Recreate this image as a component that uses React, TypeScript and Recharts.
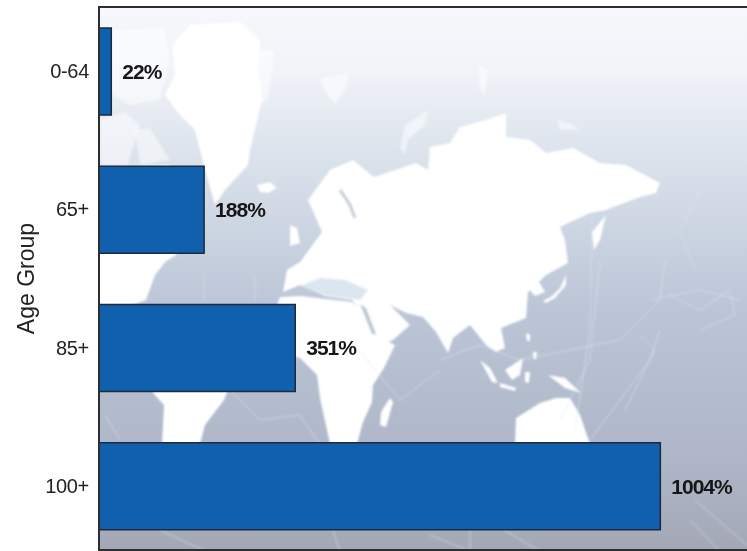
import { BarChart, Bar, XAxis, YAxis, LabelList } from "recharts";

const ageGroups = ["0-64", "65+", "85+", "100+"];
const growthPct = [22, 188, 351, 1004];

const chartData = ageGroups.map((group, i) => ({ group, growth: growthPct[i] }));

const FONT = '"Liberation Sans", Arial, sans-serif';

// Backdrop artwork only (world map behind the chart), not data
const solidLand = [
  // Eurasia
  "308,200 330,170 353,160 374,177 386,173 416,163 428,170 430,147 450,143 460,127 486,120 506,113 506,137 530,140 546,153 573,148 600,163 626,165 660,183 656,193 640,197 606,210 590,213 560,227 565,240 568,263 546,275 528,292 526,318 501,328 505,348 496,352 486,345 470,325 453,338 448,353 436,332 423,317 406,313 390,305 410,325 393,340 381,345 368,320 352,300 325,296 300,285 283,292 287,270 300,262 322,232",
  // Africa
  "280,297 300,296 352,302 364,312 375,335 395,345 384,368 373,385 372,402 363,422 357,444 330,444 320,398 317,375 300,358 270,350 275,310",
  // South America
  "150,385 230,385 224,400 205,425 200,444 162,444 164,405 153,393",
  // North America
  "99,168 170,165 176,255 165,262 155,275 146,300 130,306 99,306",
  // Greenland
  "172,45 190,25 240,22 260,40 258,70 262,100 250,150 248,165 225,190 215,205 205,170 195,130 180,115 165,95 175,75",
  // Australia
  "516,418 540,403 556,398 570,398 580,415 590,444 515,444",
  // New Guinea
  "548,375 565,378 581,393 565,388",
  // Borneo
  "505,370 523,358 520,375 512,380",
  // Sumatra
  "480,360 490,368 498,383 492,382",
  // Java
  "500,383 516,388 515,391 500,387",
  // Sulawesi
  "525,372 530,372 529,383 525,382",
  // Philippines
  "533,352 537,352 536,360 533,358",
  // Taiwan
  "526,334 530,334 530,341 527,341",
  // Japan
  "543,301 552,296 560,288 566,275 566,285 555,298 546,303",
  // Korea
  "525,285 538,280 545,292 535,296",
  // Madagascar
  "390,398 393,402 386,427 380,425 381,412",
  // Sakhalin
  "606,215 600,240 594,250 592,232",
  // Iceland
  "257,185 270,182 277,188 268,193 260,192",
  // UK
  "290,225 297,228 300,243 290,246",
];

const paleLand = [
  // Canadian arctic
  "100,120 125,112 140,125 128,165 100,165",
  "135,130 150,128 170,160 140,165",
  "104,30 165,28 170,60 160,100 130,105 105,90",
  "240,50 275,50 268,100 250,110",
  // Svalbard, Novaya Zemlya
  "320,78 350,72 345,90 335,105 325,92",
  "428,110 425,125 408,140 405,155 400,148 405,125",
  "478,65 488,70 485,95 480,90",
  "557,120 575,125 578,130 560,130",
];

const cableLines = [
  "592,215 590,330 575,430",
  "600,260 590,360 560,420",
  "440,360 480,345 520,360 560,352 620,340 660,300 665,260",
  "590,440 620,400 650,360 660,330",
  "640,335 655,350 625,410",
  "700,190 680,230 695,270",
  "670,295 700,310 730,290 735,315 700,330",
  "650,300 700,290 740,300",
  "695,500 747,545",
  "690,520 720,551",
  "470,551 470,530",
  "430,535 470,551",
  "160,530 205,551",
  "333,530 340,551",
  "105,415 120,440",
  "230,390 260,420 300,415 320,445",
  "350,340 400,400 440,370",
  "204,275 204,300",
  "255,275 255,300",
  "440,530 470,510 540,551",
];

function MapBackdrop() {
  return (
    <svg width={747} height={551} style={{ position: "absolute", left: 0, top: 0 }}>
      <defs>
        <linearGradient id="sky" x1="0" y1="0" x2="0" y2="1">
          <stop offset="0%" stopColor="#f6f8fb" />
          <stop offset="12%" stopColor="#f0f3f8" />
          <stop offset="30%" stopColor="#d8e0ea" />
          <stop offset="55%" stopColor="#bcc6d7" />
          <stop offset="85%" stopColor="#adb5c6" />
          <stop offset="100%" stopColor="#a4a8b6" />
        </linearGradient>
        <filter id="soft">
          <feGaussianBlur stdDeviation="0.8" />
        </filter>
      </defs>
      <rect x={99} y={7} width={648} height={542} fill="url(#sky)" />
      <g filter="url(#soft)">
        {paleLand.map((pts, i) => (
          <polygon key={i} points={pts} fill="#ffffff" opacity={0.5} />
        ))}
        {solidLand.map((pts, i) => (
          <polygon key={i} points={pts} fill="#ffffff" />
        ))}
        <polygon points="300,286 320,278 345,280 368,290 360,300 325,295" fill="#dbe6f1" />
        <polyline points="340,190 350,205 355,218" fill="none" stroke="#c3cbd8" strokeWidth={3} />
        <polygon points="360,304 366,308 376,334 372,334" fill="#bcc6d7" />
        {cableLines.map((pts, i) => (
          <polyline key={i} points={pts} fill="none" stroke="#dbe8f4" strokeWidth={1} opacity={0.6} />
        ))}
      </g>
    </svg>
  );
}

export default function App() {
  return (
    <div
      style={{
        position: "absolute",
        left: 0,
        top: 0,
        width: 747,
        height: 551,
        overflow: "hidden",
        background: "#ffffff",
      }}
    >
      <MapBackdrop />
      <div style={{ position: "absolute", left: 0, top: 0 }}>
        <BarChart
          width={747}
          height={556}
          data={chartData}
          layout="vertical"
          margin={{ top: 2, right: 0, bottom: 1, left: 0 }}
        >
          <XAxis type="number" hide domain={[0, 1159]} />
          <YAxis
            type="category"
            dataKey="group"
            width={99}
            axisLine={false}
            tickLine={false}
            tickSize={0}
            tickMargin={10}
            tick={{ fill: "#222222", fontSize: 20, fontFamily: FONT, letterSpacing: -0.3 }}
            label={{
              value: "Age Group",
              angle: -90,
              position: "insideLeft",
              offset: 26,
              style: { textAnchor: "middle", fill: "#222222", fontSize: 23, fontFamily: FONT },
            }}
          />
          <Bar
            dataKey="growth"
            barSize={87}
            fill="#1060ae"
            stroke="#1c2b3e"
            strokeWidth={1.5}
            isAnimationActive={false}
          >
            <LabelList
              dataKey="growth"
              position="right"
              offset={11}
              formatter={(v: number) => `${v}%`}
              style={{ fill: "#161616", fontSize: 21, fontWeight: 700, fontFamily: FONT, letterSpacing: -1 }}
            />
          </Bar>
        </BarChart>
      </div>
      {/* chart frame: top, left and bottom rules */}
      <div
        style={{
          position: "absolute",
          left: 98,
          top: 6,
          width: 649,
          height: 541,
          borderTop: "2px solid #2e2e2e",
          borderLeft: "2px solid #2e2e2e",
          borderBottom: "2px solid #2e2e2e",
        }}
      />
    </div>
  );
}
